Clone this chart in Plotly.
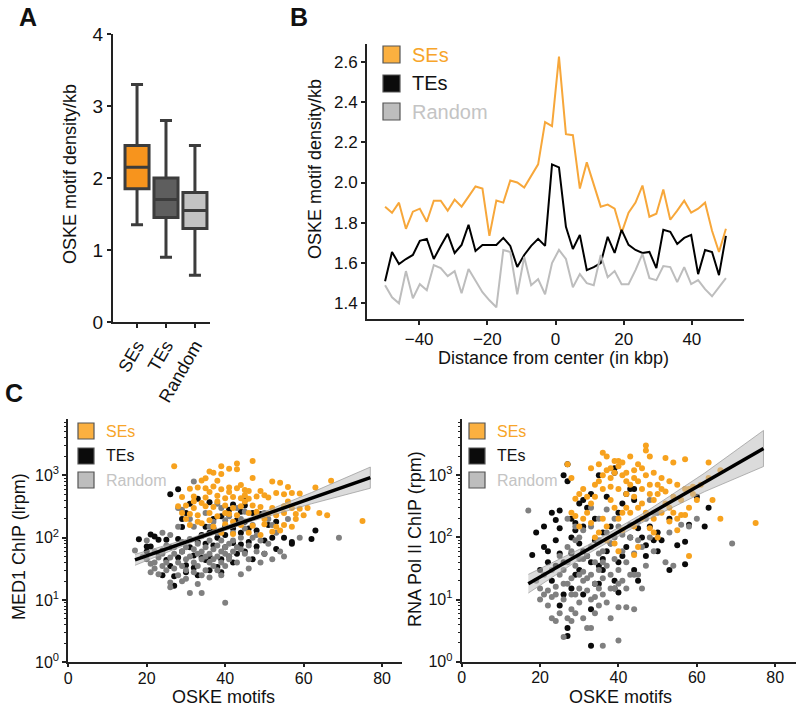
import plotly.graph_objects as go

# ---------------- dane ----------------
GROUPS = ["SEs", "TEs", "Random"]

# panel A: statystyki pudełek
BOX_Q1 = [1.85, 1.45, 1.30]
BOX_MED = [2.15, 1.70, 1.55]
BOX_Q3 = [2.45, 2.00, 1.80]
BOX_LO = [1.35, 0.90, 0.65]
BOX_HI = [3.30, 2.80, 2.45]

# panel B: profil gęstości motywów (50 przedziałów od -50 do 50 kbp)
DIST_KBP = [round(-50 + i * 100 / 49, 2) for i in range(50)]
PROFILE_SE = [1.88, 1.85, 1.90, 1.77, 1.855, 1.87, 1.805, 1.91, 1.91, 1.86,
              1.915, 1.88, 1.93, 1.98, 1.97, 1.735, 1.91, 1.90, 2.01, 2.00,
              1.975, 2.03, 2.09, 2.30, 2.28, 2.625, 2.24, 2.235, 1.97, 2.10,
              1.985, 1.88, 1.89, 1.87, 1.75, 1.85, 1.90, 1.985, 1.83, 1.845,
              1.965, 1.815, 1.86, 1.91, 1.85, 1.87, 1.90, 1.76, 1.655, 1.77]
PROFILE_TE = [1.51, 1.655, 1.595, 1.62, 1.64, 1.71, 1.72, 1.62, 1.685, 1.745,
              1.65, 1.69, 1.79, 1.66, 1.69, 1.69, 1.69, 1.725, 1.685, 1.58,
              1.64, 1.685, 1.72, 1.685, 2.09, 2.075, 1.78, 1.67, 1.74, 1.565,
              1.58, 1.60, 1.73, 1.65, 1.765, 1.69, 1.665, 1.65, 1.655, 1.575,
              1.765, 1.755, 1.695, 1.725, 1.74, 1.545, 1.665, 1.655, 1.54, 1.735]
PROFILE_RND = [1.49, 1.43, 1.40, 1.56, 1.425, 1.495, 1.465, 1.59, 1.575, 1.535,
               1.56, 1.45, 1.57, 1.515, 1.455, 1.415, 1.38, 1.665, 1.655, 1.445,
               1.63, 1.49, 1.52, 1.445, 1.60, 1.665, 1.62, 1.48, 1.545, 1.50,
               1.49, 1.64, 1.53, 1.56, 1.495, 1.495, 1.565, 1.645, 1.525, 1.515,
               1.585, 1.58, 1.505, 1.58, 1.495, 1.515, 1.47, 1.435, 1.48, 1.525]

# panel C (lewy): MED1 ChIP vs liczba motywów OSKE
SE_MED1 = [
    (27, 1400), (39, 1400), (41, 1280), (43, 1550), (43, 1250), (47, 1700), (36, 1150), (37, 1100), (39, 1050),
    (34, 830), (35, 900), (38, 820), (47, 910), (52, 800), (54, 760), (56, 650), (67, 820), (63, 640),
    (31, 610), (33, 640), (35, 620), (37, 660), (39, 600), (41, 640), (43, 620), (45, 580),
    (29, 450), (32, 460), (35, 440), (38, 470), (40, 430), (42, 450), (44, 430), (46, 420), (48, 460),
    (50, 480), (51, 440), (53, 520), (55, 500), (57, 520), (59, 510),
    (28, 320), (30, 330), (32, 300), (35, 320), (37, 310), (40, 330), (42, 300), (44, 320), (47, 330),
    (49, 310), (52, 300), (55, 320), (57, 300), (59, 290), (61, 300),
    (31, 240), (33, 230), (36, 250), (38, 220), (41, 240), (43, 230), (46, 250), (48, 220), (51, 240),
    (53, 230), (55, 250), (58, 240), (60, 230), (64, 250), (66, 230), (75, 185),
    (31, 160), (34, 170), (37, 150), (40, 165), (44, 160), (47, 155), (50, 165), (53, 150), (55, 160), (57, 150),
    (39, 120), (42, 115), (46, 120), (49, 110), (52, 125), (54, 130),
    (36, 190), (38, 380), (45, 380), (48, 260), (50, 200), (34, 360), (30, 200), (33, 180), (44, 700),
    (41, 540), (46, 560), (49, 560), (45, 480), (56, 380), (58, 200), (42, 180), (40, 250), (36, 540),
    (32, 380), (29, 250),
]
TE_MED1 = [
    (18, 94), (20, 72), (21, 113), (21, 72), (22, 104), (23, 93), (24, 62), (25, 93), (25, 44), (24, 25),
    (27, 24), (27, 17), (26, 500), (28, 600),
    (29, 148), (29, 200), (30, 250), (31, 350), (33, 420), (36, 370), (42, 340), (45, 330), (45, 400),
    (47, 250), (49, 240), (43, 190), (45, 180), (40, 150), (42, 140), (35, 150), (37, 140),
    (33, 85), (35, 80), (37, 75), (40, 70), (42, 82), (44, 78), (46, 85), (48, 72),
    (32, 52), (34, 48), (36, 50), (39, 45), (41, 50), (43, 55),
    (50, 90), (52, 100), (55, 100), (57, 80), (57, 85), (62, 95), (63, 130), (53, 66),
    (30, 36), (32, 33), (35, 44), (38, 34), (29, 60), (31, 70), (28, 95), (26, 70), (23, 55), (20, 60),
    (34, 110), (36, 120), (38, 100), (40, 110), (44, 120), (46, 140), (48, 130), (51, 160), (53, 180),
    (44, 260), (39, 220), (37, 200), (41, 280),
    (26, 35), (28, 48), (30, 28), (33, 25), (36, 30), (39, 28), (42, 40), (45, 60), (47, 45), (50, 55),
]
RND_MED1 = [
    (17, 62), (19, 50), (20, 45), (21, 38), (21, 28), (22, 40), (22, 32), (23, 26), (23, 48), (24, 35),
    (24, 55), (25, 30), (25, 40), (26, 16), (26, 19), (26, 48), (27, 32), (27, 55), (27, 70), (28, 40),
    (28, 25), (28, 300), (29, 280), (29, 35), (29, 60), (29, 85), (30, 45), (30, 70), (30, 30), (30, 22),
    (31, 13), (31, 50), (31, 95), (32, 40), (32, 65), (32, 28), (32, 800), (33, 55), (33, 80), (33, 35),
    (34, 13), (34, 45), (34, 60), (34, 25), (34, 105), (35, 30), (35, 70), (35, 50), (36, 40), (36, 90),
    (36, 55), (36, 150), (37, 35), (37, 65), (37, 45), (37, 180), (38, 50), (38, 75), (38, 30), (38, 120),
    (39, 60), (39, 40), (39, 90), (39, 300), (40, 9), (40, 55), (40, 70), (40, 35), (41, 80), (41, 50),
    (41, 45), (42, 60), (42, 120), (42, 90), (43, 70), (43, 40), (44, 65), (44, 100), (44, 26), (45, 55),
    (45, 140), (46, 75), (46, 45), (47, 100), (48, 60), (48, 110), (49, 40), (50, 55), (51, 80), (52, 45),
    (53, 120), (54, 60), (55, 50), (59, 100), (69, 100), (56, 200), (50, 250), (44, 200), (47, 160),
    (52, 160), (24, 120), (20, 90), (26, 110), (32, 150), (35, 250), (41, 220), (43, 300), (38, 350),
    (31, 200), (28, 150), (25, 75), (22, 60), (36, 23), (39, 25), (33, 18), (29, 20), (46, 32), (49, 90),
    (51, 200), (45, 260), (40, 190),
]

# panel C (prawy): RNA Pol II ChIP vs liczba motywów OSKE
SE_POL2 = [
    (47, 3000), (47, 2500), (36, 2300), (37, 2000), (39, 1700), (40, 1700), (41, 1600), (43, 2000),
    (45, 1500), (48, 2000), (52, 1900), (54, 1600), (57, 1800), (63, 1600), (66, 1200), (64, 400),
    (66, 200), (75, 170), (58, 50), (44, 52), (40, 60), (27, 1500), (28, 900),
    (31, 600), (30, 500), (29, 420), (28, 250), (33, 350), (32, 450), (34, 700), (35, 800), (36, 1000),
    (37, 1200), (38, 900), (39, 1100), (40, 600), (41, 1000), (42, 800), (43, 700), (44, 1200), (45, 800),
    (46, 600), (47, 1000), (48, 700), (49, 400), (50, 500), (51, 600), (52, 350), (53, 300), (54, 250),
    (55, 200), (56, 230), (57, 230), (58, 300), (59, 500), (60, 400),
    (50, 100), (49, 120), (48, 140), (46, 200), (45, 300), (44, 150), (42, 300), (41, 250), (40, 200),
    (39, 300), (38, 400), (37, 150), (36, 200), (35, 120), (34, 100), (33, 170), (32, 250), (31, 200),
    (30, 150), (29, 220),
    (33, 1300), (35, 1500), (38, 1300), (40, 1400), (42, 1100), (44, 900), (46, 1300), (49, 1100),
    (51, 900), (53, 800), (55, 700), (57, 600), (59, 650), (61, 700), (63, 900), (48, 500), (50, 700),
    (52, 550), (54, 450), (56, 400), (58, 600), (36, 600), (38, 650), (34, 450), (42, 500), (44, 450),
    (46, 350), (43, 250), (47, 250), (49, 200), (51, 250), (53, 180), (55, 130), (39, 80), (45, 70),
    (37, 90), (41, 130),
]
TE_POL2 = [
    (27, 1500), (26, 1000), (27, 800), (35, 1000), (39, 1300), (39, 1100), (43, 600), (44, 600), (31, 400),
    (33, 500), (25, 270), (23, 250), (21, 150), (19, 120), (18, 52), (21, 70), (22, 60), (24, 90), (24, 190),
    (25, 140), (28, 200), (29, 130), (30, 80), (31, 60), (32, 50), (33, 40), (33, 7), (33, 1.8), (27, 3.5),
    (27, 2.6), (25, 8), (26, 12), (28, 15), (29, 25), (30, 30), (34, 18), (35, 35), (36, 45), (37, 60),
    (38, 80), (39, 20), (40, 40), (41, 50), (42, 70), (44, 30), (45, 20), (47, 50), (49, 90), (50, 60),
    (51, 90), (53, 30), (55, 75), (57, 85), (57, 37), (58, 160), (60, 450), (62, 150), (63, 300), (53, 200),
    (50, 120), (48, 150), (46, 100), (44, 400), (42, 500), (40, 250), (38, 150), (36, 120), (34, 200),
    (32, 300), (30, 350), (29, 170), (28, 100), (26, 40), (24, 35), (23, 20), (22, 40), (20, 30), (31, 12),
    (35, 18), (36, 30), (39, 15), (40, 13), (37, 450), (41, 350), (45, 140), (47, 75), (43, 100), (34, 90),
    (31, 150), (28, 55), (25, 55),
]
RND_POL2 = [
    (17, 270), (19, 20), (20, 15), (20, 10), (21, 12), (22, 8), (22, 14), (23, 5), (23, 11), (24, 4.5),
    (24, 16), (25, 6), (25, 25), (26, 2.5), (26, 10), (26, 30), (27, 5), (27, 18), (27, 40), (28, 7),
    (28, 4.5), (28, 22), (28, 60), (29, 12), (29, 35), (29, 6), (30, 15), (30, 45), (30, 9), (30, 100),
    (31, 20), (31, 28), (31, 5), (32, 3.5), (32, 14), (32, 50), (33, 10), (33, 3.5), (33, 25), (33, 70),
    (34, 6), (34, 40), (34, 18), (35, 8), (35, 30), (35, 15), (35, 90), (36, 1.8), (36, 22), (36, 12),
    (36, 60), (37, 9), (37, 35), (37, 120), (38, 5), (38, 25), (38, 80), (39, 15), (39, 45), (40, 2.2),
    (40, 7.5), (40, 30), (40, 150), (41, 20), (41, 60), (42, 7.5), (42, 40), (43, 25), (43, 100), (44, 7),
    (44, 55), (45, 25), (45, 180), (46, 70), (47, 35), (48, 100), (48, 400), (49, 60), (50, 250), (52, 40),
    (53, 120), (54, 35), (56, 160), (58, 150), (60, 200), (69, 80), (49, 250), (47, 200), (45, 90),
    (43, 160), (41, 110), (39, 200), (37, 280), (35, 200), (33, 150), (31, 130), (29, 90), (27, 70),
    (25, 50), (23, 30), (21, 25), (24, 12), (26, 18), (28, 12), (30, 25), (32, 22), (34, 11), (36, 40),
    (38, 15), (40, 18), (42, 15), (44, 25), (46, 15), (31, 45), (35, 55), (39, 100), (29, 150), (33, 300),
    (27, 200),
]

# linie regresji i przedziały ufności
FIT_X = [17, 32, 47, 62, 77]
FIT_MED1 = [44, 94, 201, 430, 920]
FIT_MED1_LO = [36, 87, 186, 350, 622]
FIT_MED1_HI = [54, 102, 218, 530, 1360]
FIT_POL2 = [18, 63, 220, 769, 2690]
FIT_POL2_LO = [12.7, 53.5, 187, 545, 1380]
FIT_POL2_HI = [25.4, 74, 258, 1086, 5250]

# ---------------- styl ----------------
FONT = "Liberation Sans, Arial, Helvetica, sans-serif"
BOX_FILL = ["#f7941d", "#5e5e5e", "#c3c3c3"]
LINE_COL = ["#f7a73a", "#000000", "#bdbdbd"]
PT_COL = ["#f7a21e", "#0b0b0b", "#808080"]
AX = "#222222"
W, H = 800, 708


def px(x, y):
    """Piksele -> współrzędne papieru."""
    return x / W, 1 - y / H


fig = go.Figure()

# --- panel A ---
for i, g in enumerate(GROUPS):
    fig.add_trace(go.Box(
        x=[g], q1=[BOX_Q1[i]], median=[BOX_MED[i]], q3=[BOX_Q3[i]],
        lowerfence=[BOX_LO[i]], upperfence=[BOX_HI[i]],
        fillcolor=BOX_FILL[i], line=dict(color="#3c3c3c", width=3),
        width=0.83, whiskerwidth=0.5, boxpoints=False,
        xaxis="x", yaxis="y", showlegend=False, hoverinfo="skip"))

# --- panel B ---
for series, col in zip([PROFILE_SE, PROFILE_TE, PROFILE_RND], LINE_COL):
    fig.add_trace(go.Scatter(x=DIST_KBP, y=series, mode="lines",
                             line=dict(color=col, width=2),
                             xaxis="x2", yaxis="y2", showlegend=False))


# --- panel C ---
def add_scatter_panel(pts_list, fit, lo, hi, xa, ya):
    order = [1, 2, 0]  # TEs, Random, SEs
    for k in order:
        pts = pts_list[k]
        fig.add_trace(go.Scatter(
            x=[p[0] for p in pts], y=[p[1] for p in pts], mode="markers",
            marker=dict(color=PT_COL[k], size=6, line=dict(width=0)),
            xaxis=xa, yaxis=ya, showlegend=False))
    fig.add_trace(go.Scatter(x=FIT_X + FIT_X[::-1], y=hi + lo[::-1],
                             fill="toself", fillcolor="rgba(190,190,190,0.55)",
                             line=dict(color="rgba(150,150,150,0.7)", width=1),
                             mode="lines", xaxis=xa, yaxis=ya, showlegend=False))
    fig.add_trace(go.Scatter(x=FIT_X, y=fit, mode="lines",
                             line=dict(color="#000000", width=3.5),
                             xaxis=xa, yaxis=ya, showlegend=False))


add_scatter_panel([SE_MED1, TE_MED1, RND_MED1], FIT_MED1, FIT_MED1_LO, FIT_MED1_HI, "x3", "y3")
add_scatter_panel([SE_POL2, TE_POL2, RND_POL2], FIT_POL2, FIT_POL2_LO, FIT_POL2_HI, "x4", "y4")

# ---------------- osie ----------------
base = dict(showgrid=False, zeroline=False, showline=True, linecolor=AX, linewidth=2,
            ticks="outside", tickcolor=AX, tickwidth=1.5, ticklen=4,
            tickfont=dict(family=FONT, size=17, color="#111"))

log_ticks = [1, 10, 100, 1000]
log_text = ["10<sup>0</sup>", "10<sup>1</sup>", "10<sup>2</sup>", "10<sup>3</sup>"]
minor_vals = [m * 10 ** k for k in range(4) for m in range(2, 10)]
logax = dict(base, type="log", range=[0, 3.9], tickmode="array", tickvals=log_ticks,
             ticktext=log_text, tickfont=dict(family=FONT, size=16, color="#111"),
             minor=dict(tickmode="array", tickvals=minor_vals, ticks="outside",
                        ticklen=2, tickcolor=AX, tickwidth=1))
linax_c = dict(base, range=[0, 85], tickvals=[0, 20, 40, 60, 80], ticklen=3,
               ticklabelstandoff=-3, tickfont=dict(family=FONT, size=16, color="#111"))

fig.update_layout(
    width=W, height=H, margin=dict(l=0, r=0, t=0, b=0, autoexpand=False),
    paper_bgcolor="white", plot_bgcolor="white",
    font=dict(family=FONT, color="#111"),
    xaxis=dict(base, domain=[113 / W, 210 / W], range=[-0.83, 2.52], type="category",
               tickangle=-60, tickfont=dict(family=FONT, size=18, color="#111"), anchor="y"),
    yaxis=dict(base, domain=[1 - 322 / H, 1 - 34 / H], range=[0, 4], tickvals=[0, 1, 2, 3, 4],
               tickfont=dict(family=FONT, size=19, color="#111"), anchor="x"),
    xaxis2=dict(base, domain=[367 / W, 744 / W], range=[-55.3, 55.3],
                tickvals=[-40, -20, 0, 20, 40], anchor="y2"),
    yaxis2=dict(base, domain=[1 - 319 / H, 1 - 44 / H], range=[1.322, 2.688],
                tickvals=[1.4, 1.6, 1.8, 2.0, 2.2, 2.4, 2.6], tickformat=".1f", anchor="x2"),
    xaxis3=dict(linax_c, domain=[68.3 / W, 401.7 / W], anchor="y3"),
    yaxis3=dict(logax, domain=[1 - 662.3 / H, 1 - 419.3 / H], anchor="x3"),
    xaxis4=dict(linax_c, domain=[461.7 / W, 796 / W], range=[0, 85.3], anchor="y4"),
    yaxis4=dict(logax, domain=[1 - 661.7 / H, 1 - 419.3 / H], anchor="x4"),
)

# ---------------- teksty ----------------
ann = []


def text(x, y, s, size, color="#111", angle=0, bold=False, xanchor="center"):
    ax_, ay_ = px(x, y)
    ann.append(dict(x=ax_, y=ay_, xref="paper", yref="paper", text=f"<b>{s}</b>" if bold else s,
                    showarrow=False, textangle=angle, xanchor=xanchor, yanchor="middle",
                    font=dict(family=FONT, size=size, color=color)))


text(28, 17, "A", 25, bold=True)
text(299, 17, "B", 25, bold=True)
text(14, 393, "C", 25, bold=True)

text(70, 174, "OSKE motif density/kb", 18, angle=-90)
text(315, 169, "OSKE motif density/kb", 18, angle=-90)
text(553, 358, "Distance from center (in kbp)", 18)
text(19, 547, "MED1 ChIP (lrpm)", 18, angle=-90)
text(223, 697, "OSKE motifs", 18)
text(415, 539, "RNA Pol II ChIP (rpm)", 18, angle=-90)
text(620, 697, "OSKE motifs", 18)

# legendy rysowane ręcznie (kwadrat + kolorowy opis)
LEG_SQ = ["#fbb040", "#0b0b0b", "#bdbdbd"]
LEG_TXT = ["#f7a52a", "#111111", "#c4c4c4"]
shapes = []


def legend(x0, ys, sq, size):
    for i, g in enumerate(GROUPS):
        y0 = ys[i]
        a0, b0 = px(x0, y0)
        a1, b1 = px(x0 + sq, y0 + sq)
        shapes.append(dict(type="rect", xref="paper", yref="paper", x0=a0, x1=a1, y0=b1, y1=b0,
                           fillcolor=LEG_SQ[i], line=dict(color="#555", width=1.2)))
        text(x0 + sq + 10, y0 + sq / 2, g, size, color=LEG_TXT[i], xanchor="left")


legend(383, [46, 75, 103], 17, 20)
legend(78, [423, 448, 472], 16, 16)
legend(469, [423, 448, 472], 16, 16)

fig.update_layout(annotations=ann, shapes=shapes)

# domyślny margines <body> przesuwa wykres o 8 px - zerujemy go
fig.write_html("out.html", config={"displayModeBar": False},
               post_script="document.body.style.margin='0';")
